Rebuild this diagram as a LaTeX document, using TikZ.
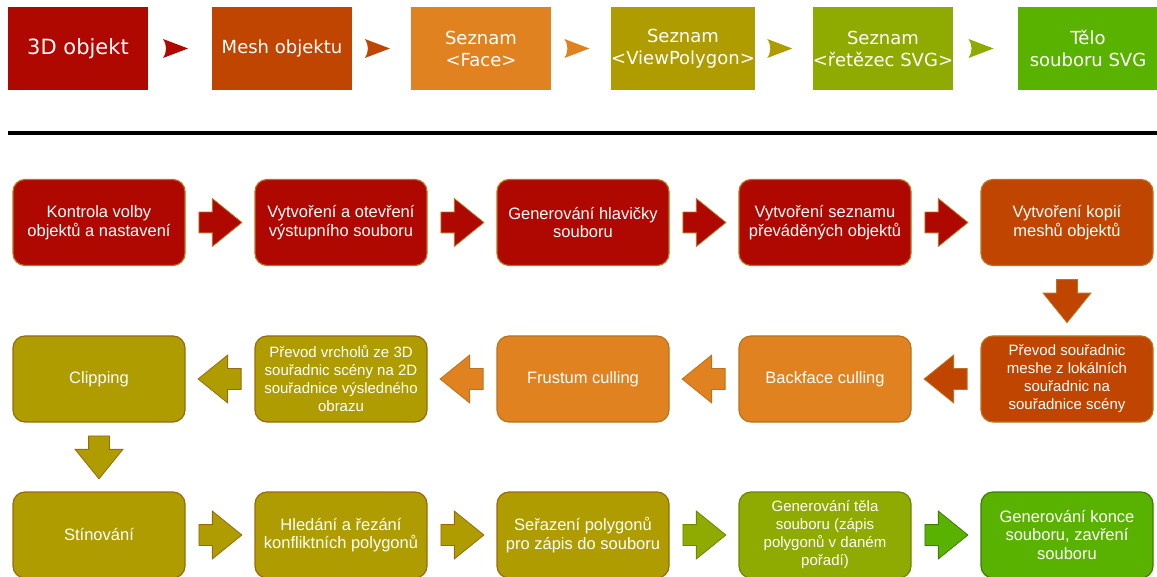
\documentclass[tikz,border=0pt]{standalone}
\usepackage{fontspec}
\setmainfont{Liberation Sans}
\newfontfamily\verd{DejaVu Sans}
\usetikzlibrary{shapes.arrows,calc}

\definecolor{cRed}{HTML}{AE0800}
\definecolor{cRust}{HTML}{C04500}
\definecolor{cOrange}{HTML}{E0821F}
\definecolor{cOlive}{HTML}{AE9C00}
\definecolor{cLime}{HTML}{8FAA00}
\definecolor{cGreen}{HTML}{5AB200}
\definecolor{edgeBrown}{HTML}{B9731E}
\definecolor{edgeOlive}{HTML}{9A6A10}
\definecolor{edgeLime}{HTML}{6F8600}
\definecolor{edgeGreen}{HTML}{3E7D00}

\tikzset{
  stage/.style={rectangle, minimum width=140pt, minimum height=83pt, inner sep=0pt,
    text=white, align=center, font=\verd\fontsize{18}{22}\selectfont},
  task/.style={rectangle, rounded corners=12pt, minimum width=172pt, minimum height=86pt,
    inner sep=2pt, line width=1.2pt, draw=edgeBrown, text=white, align=center,
    font=\fontsize{16.5}{18.5}\selectfont},
  small/.style={font=\fontsize{15}{18}\selectfont},
  barrow/.style={single arrow, minimum height=43pt, minimum width=47pt,
    inner xsep=0pt, inner ysep=10pt, single arrow head extend=13.5pt,
    single arrow tip angle=78, line width=0.8pt, draw=edgeBrown, anchor=tail},
  chev/.pic={\fill[pic actions] (12.5,0) -- (-12.5,-9.5)
    .. controls (-8.5,-3) and (-8.5,3) .. (-12.5,9.5) -- cycle;}
}

% draws a block arrow centred in the gap between two boxes
\newcommand\blockarr[4][]{%
  \node[barrow, fill=#4, #1] at ($ ($(#2)!0.5!(#3)$)!21.5pt!(#2) $) {};}
% draws a small arrowhead in the gap between two stage boxes
\newcommand\stagearr[3]{%
  \pic[fill=#3] at ($(#1.east)!0.43!(#2.west)$) {chev};}

\begin{document}
\begin{tikzpicture}[x=1pt, y=-1pt]
\useasboundingbox (0,0) rectangle (1157,577);

% ---- data flow ----
\node[stage, fill=cRed, font=\verd\fontsize{21}{24}\selectfont] (s1) at (78,48.5) {3D objekt};
\node[stage, fill=cRust]   (s2) at (282,48.5) {Mesh objektu};
\node[stage, fill=cOrange] (s3) at (481,48.5) {Seznam\\<Face>};
\node[stage, fill=cOlive]  (s4) at (683,48.5) {Seznam\\<ViewPolygon>};
\node[stage, fill=cLime]   (s5) at (883,48.5) {Seznam\\<řetězec SVG>};
\node[stage, fill=cGreen]  (s6) at (1088,48.5) {Tělo\\souboru SVG};

\stagearr{s1}{s2}{cRed}
\stagearr{s2}{s3}{cRust}
\stagearr{s3}{s4}{cOrange}
\stagearr{s4}{s5}{cOlive}
\stagearr{s5}{s6}{cLime}

\draw[line width=4.5pt] (8,133) -- (1157,133);

% ---- processing steps ----
\node[task, fill=cRed]  (a1) at (99,222.5)  {Kontrola volby\\objektů a nastavení};
\node[task, fill=cRed]  (a2) at (341,222.5) {Vytvoření a otevření\\výstupního souboru};
\node[task, fill=cRed]  (a3) at (583,222.5) {Generování hlavičky\\souboru};
\node[task, fill=cRed]  (a4) at (825,222.5) {Vytvoření seznamu\\převáděných objektů};
\node[task, fill=cRust] (a5) at (1067,222.5) {Vytvoření kopií\\meshů objektů};

\node[task, small, fill=cRust]   (b5) at (1067,379) {Převod souřadnic\\meshe z lokálních\\souřadnic na\\souřadnice scény};
\node[task, fill=cOrange]        (b4) at (825,379)  {Backface culling};
\node[task, fill=cOrange]        (b3) at (583,379)  {Frustum culling};
\node[task, small, fill=cOlive, draw=edgeOlive] (b2) at (341,379) {Převod vrcholů ze 3D\\souřadnic scény na 2D\\souřadnice výsledného\\obrazu};
\node[task, fill=cOlive, draw=edgeOlive] (b1) at (99,379) {Clipping};

\node[task, fill=cOlive, draw=edgeOlive] (c1) at (99,535)  {Stínování};
\node[task, fill=cOlive, draw=edgeOlive] (c2) at (341,535) {Hledání a řezání\\konfliktních polygonů};
\node[task, fill=cOlive, draw=edgeOlive] (c3) at (583,535) {Seřazení polygonů\\pro zápis do souboru};
\node[task, small, fill=cLime, draw=edgeLime] (c4) at (825,535) {Generování těla\\souboru (zápis\\polygonů v daném\\pořadí)};
\node[task, fill=cGreen, draw=edgeGreen] (c5) at (1067,535) {Generování konce\\souboru, zavření\\souboru};

% ---- arrows between steps ----
\blockarr{a1}{a2}{cRed}
\blockarr{a2}{a3}{cRed}
\blockarr{a3}{a4}{cRed}
\blockarr{a4}{a5}{cRed}
\blockarr[rotate=-90]{a5}{b5}{cRust}

\blockarr[rotate=180]{b5}{b4}{cRust}
\blockarr[rotate=180]{b4}{b3}{cOrange}
\blockarr[rotate=180]{b3}{b2}{cOrange}
\blockarr[rotate=180, draw=edgeOlive]{b2}{b1}{cOlive}
\blockarr[rotate=-90, draw=edgeOlive]{b1}{c1}{cOlive}

\blockarr[draw=edgeOlive]{c1}{c2}{cOlive}
\blockarr[draw=edgeOlive]{c2}{c3}{cOlive}
\blockarr[draw=edgeLime]{c3}{c4}{cLime}
\blockarr[draw=edgeGreen]{c4}{c5}{cGreen}
\end{tikzpicture}
\end{document}
